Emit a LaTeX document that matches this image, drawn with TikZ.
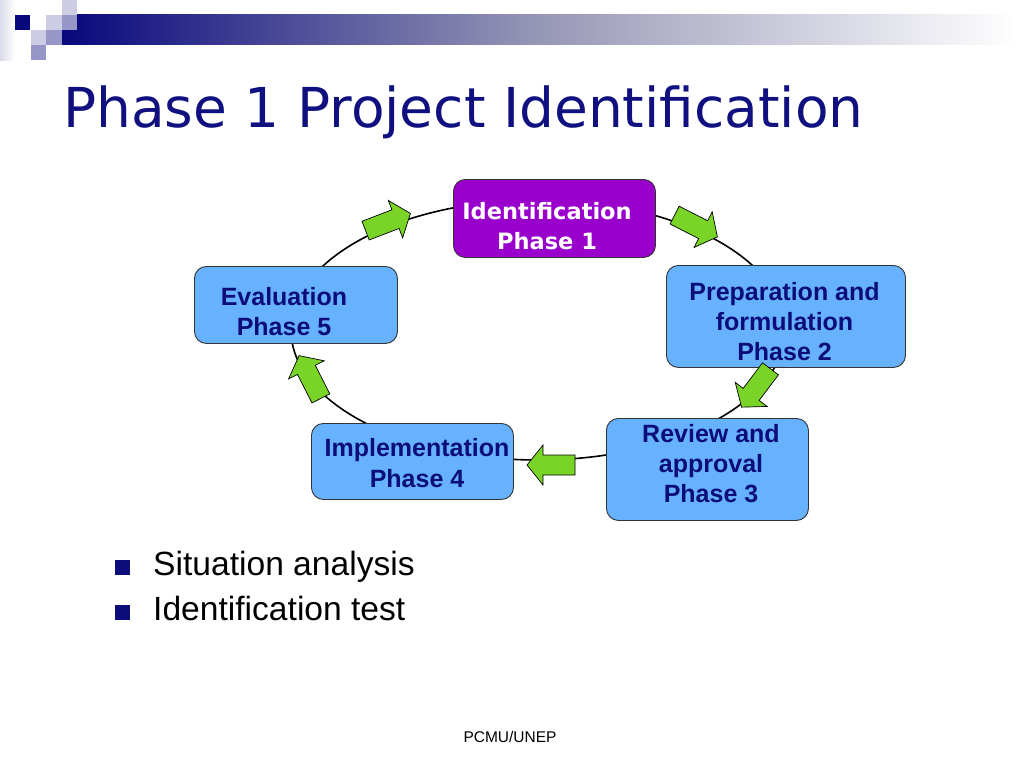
\documentclass[tikz,border=0pt]{standalone}
\usepackage{fontspec}
\setmainfont{Liberation Sans}
\newfontfamily\titlefont{DejaVu Sans}
\usetikzlibrary{shapes.geometric}
\definecolor{navy}{RGB}{12,12,122}
\definecolor{titleblue}{RGB}{16,16,128}
\definecolor{boxblue}{RGB}{102,178,255}
\definecolor{identpurple}{RGB}{153,0,204}
\definecolor{arrowgreen}{RGB}{122,212,40}
\definecolor{sqlight}{RGB}{204,204,228}
\definecolor{sqmid}{RGB}{150,150,200}
\definecolor{sqdark}{RGB}{8,8,125}
\definecolor{bandmid}{RGB}{150,150,182}
\tikzset{
  phasebox/.style={draw=black!80, line width=0.9pt, rounded corners=12pt, fill=boxblue, inner sep=0pt, anchor=north west},
  identbox/.style={phasebox, fill=identpurple},
  boxtext/.style={inner sep=0pt, anchor=base, text=navy, font=\bfseries\fontsize{25}{30}\selectfont},
  identtext/.style={inner sep=0pt, anchor=base, text=white, font=\titlefont\bfseries\fontsize{22.5}{30}\selectfont},
  arrowstyle/.style={fill=arrowgreen, draw=black, line width=0.7pt, line join=miter},
  garrow/.pic={\draw[arrowstyle] (-24,-10) -- (8,-10) -- (8,-20) -- (24,0) -- (8,20) -- (8,10) -- (-24,10) -- cycle;},
  cycleline/.style={draw=black, line width=1.6pt},
  bullettext/.style={inner sep=0pt, anchor=base west, font=\fontsize{33.6}{40}\selectfont},
}
\begin{document}
\begin{tikzpicture}[x=1pt,y=-1pt]
\useasboundingbox (0,0) rectangle (1024,768);
\fill[white] (0,0) rectangle (1024,768);
% top decoration
\shade[left color=sqlight!70, right color=white] (0,0) rectangle (15,60);
\shade[left color=sqdark, right color=white!97!sqlight, middle color=bandmid] (62,15) rectangle (1010,45);
\fill[sqdark] (15,15) rectangle (30,30);
\fill[sqlight] (62,0) rectangle (77,15);
\fill[sqlight] (46,15) rectangle (62,30);
\fill[sqmid] (62,15) rectangle (77,30);
\fill[sqlight] (31,30) rectangle (46,45);
\fill[sqmid] (46,30) rectangle (62,45);
\fill[sqmid] (31,45) rectangle (46,60);
% title
\node[inner sep=0pt, anchor=base west, text=titleblue, font=\titlefont\fontsize{55}{60}\selectfont] (title) at (63,127) {Phase 1 Project Identification};
% cycle
\draw[cycleline] (538,330) ellipse [x radius=247, y radius=130];
% boxes
\node[identbox, minimum width=202pt, minimum height=78pt] (b1) at (453,179) {};
\node[phasebox, minimum width=239pt, minimum height=102pt] (b2) at (666,265) {};
\node[phasebox, minimum width=202pt, minimum height=102pt] (b3) at (606,418) {};
\node[phasebox, minimum width=202pt, minimum height=76pt] (b4) at (311,423) {};
\node[phasebox, minimum width=203pt, minimum height=77pt] (b5) at (194,266) {};
% box texts
\node[identtext] (t1) at (547,219) {\begin{tabular}[t]{@{}c@{}}Identification\\Phase 1\end{tabular}};
\node[boxtext] (t2) at (784.5,300) {\begin{tabular}[t]{@{}c@{}}Preparation and\\formulation\\Phase 2\end{tabular}};
\node[boxtext] (t3) at (711,442) {\begin{tabular}[t]{@{}c@{}}Review and\\approval\\Phase 3\end{tabular}};
\node[boxtext, font=\bfseries\fontsize{25}{31}\selectfont] (t4) at (417,456) {\begin{tabular}[t]{@{}c@{}}Implementation\\Phase 4\end{tabular}};
\node[boxtext] (t5) at (284,305) {\begin{tabular}[t]{@{}c@{}}Evaluation\\Phase 5\end{tabular}};
% green arrows
\pic[rotate=21] (a1) at (388,222) {garrow};
\pic[rotate=-27] (a2) at (696,226) {garrow};
\pic[rotate=-127] (a3) at (756,388) {garrow};
\pic[rotate=180] (a4) at (551,465) {garrow};
\pic[rotate=117] (a5) at (310,377) {garrow};
% bullets
\fill[navy] (115,560) rectangle (130,575);
\fill[navy] (115,605) rectangle (130,620);
\node[bullettext] (l1) at (153,575) {Situation analysis};
\node[bullettext] (l2) at (153,620) {Identification test};
% footer
\node[inner sep=0pt, anchor=base, font=\fontsize{15.5}{18}\selectfont] (foot) at (510,742) {PCMU/UNEP};
\end{tikzpicture}
\end{document}
